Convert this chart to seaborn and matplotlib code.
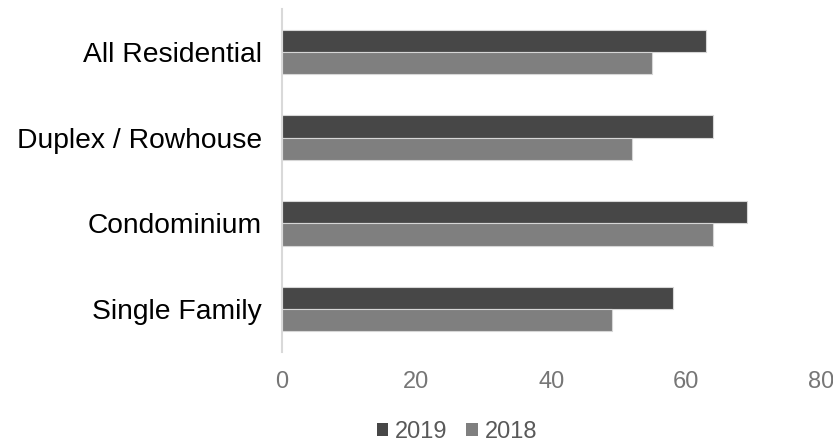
import matplotlib
matplotlib.use("Agg")
import matplotlib.pyplot as plt
from matplotlib.patches import Patch
import seaborn as sns
import pandas as pd

categories = ["All Residential", "Duplex / Rowhouse", "Condominium", "Single Family"]
values_2019 = [63, 64, 69, 58]
values_2018 = [55, 52, 64, 49]
years = ["2019", "2018"]
colors = {"2019": "#474747", "2018": "#7f7f7f"}
x_ticks = [0, 20, 40, 60, 80]

df = pd.DataFrame({
    "category": categories * 2,
    "year": [years[0]] * len(categories) + [years[1]] * len(categories),
    "value": values_2019 + values_2018,
})

sns.set_theme(style="white")
plt.rcParams["font.family"] = ["Liberation Sans", "DejaVu Sans"]

fig = plt.figure(figsize=(8.33, 4.43), dpi=100)
ax = fig.add_axes([281.5 / 833, 1 - 352 / 443, (821 - 281.5) / 833, (352 - 9) / 443])

sns.barplot(
    data=df, x="value", y="category", hue="year",
    order=categories, hue_order=years, palette=colors,
    orient="h", width=0.52, edgecolor="#d6d6d6", linewidth=0.8,
    legend=False, ax=ax,
)

ax.set_xlim(0, 80)
ax.set_ylim(3.5, -0.5)
ax.set_xticks(x_ticks)
ax.set_xticklabels([str(t) for t in x_ticks])
ax.set_xlabel("")
ax.set_ylabel("")
ax.tick_params(axis="x", length=0, pad=14, labelsize=17, labelcolor="#767676")
ax.tick_params(axis="y", length=0, pad=14, labelsize=20.3, labelcolor="#000000")

for side in ["top", "right", "bottom"]:
    ax.spines[side].set_visible(False)
ax.spines["left"].set_color("#d9d9d9")
ax.spines["left"].set_linewidth(1.5)

handles = [Patch(facecolor=colors[y], edgecolor="none", label=y) for y in years]
fig.legend(
    handles=handles, loc="center", bbox_to_anchor=(457 / 833, 1 - 432 / 443),
    ncol=2, frameon=False, fontsize=17, labelcolor="#595959",
    handlelength=0.47, handleheight=0.47, handletextpad=0.3,
    columnspacing=0.8, borderpad=0, borderaxespad=0,
)

fig.savefig("out.png", dpi=100)
